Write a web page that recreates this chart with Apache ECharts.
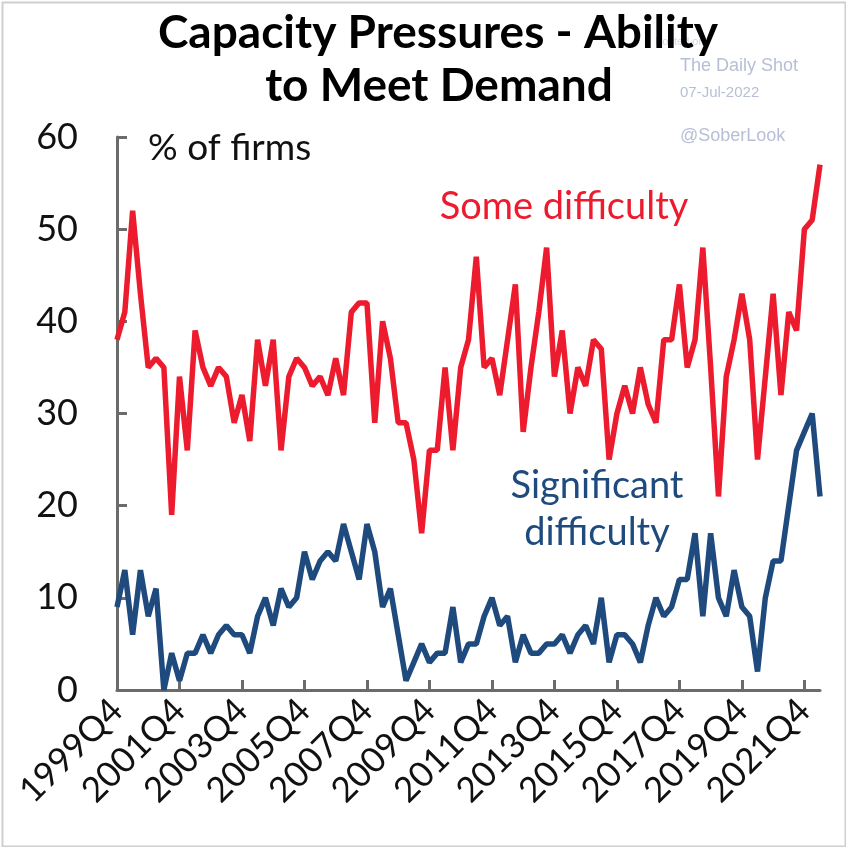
<!DOCTYPE html>
<html>
<head>
<meta charset="utf-8">
<script src="https://cdn.jsdelivr.net/npm/echarts@6/dist/echarts.min.js"></script>
<style>
html,body{margin:0;padding:0;background:#fff;}
#chart{width:846px;height:847px;}
</style>
</head>
<body>
<div id="chart"></div>
<script>
// Quarterly categories 1999Q4 .. 2022Q2
const startYear = 1999, startQ = 4, nQuarters = 91;
const categories = [];
for (let i = 0; i < nQuarters; i++) {
  const q = (startQ - 1 + i) % 4 + 1;
  const y = startYear + Math.floor((startQ - 1 + i) / 4);
  categories.push(y + 'Q' + q);
}

const someDifficulty = [
  38,41,52,43,35,36,35,19,34,26,39,35,33,35,34,29,32,27,38,33,
  38,26,34,36,35,33,34,32,36,32,41,42,42,29,40,36,29,29,25,17,
  26,26,35,26,35,38,47,35,36,32,38,44,28,35,41,48,34,39,30,35,
  33,38,37,25,30,33,30,35,31,29,38,38,44,35,38,48,35,21,34,38,
  43,38,25,34,43,32,41,39,50,51,57
];

const significantDifficulty = [
  9,13,6,13,8,11,0,4,1,4,4,6,4,6,7,6,6,4,8,10,
  7,11,9,10,15,12,14,15,14,18,15,12,18,15,9,11,6,1,3,5,
  3,4,4,9,3,5,5,8,10,7,8,3,6,4,4,5,5,6,4,6,
  7,5,10,3,6,6,5,3,7,10,8,9,12,12,17,8,17,10,8,13,
  9,8,2,10,14,14,20,26,28,30,21
];

const yTicks = { min: 0, max: 60, interval: 10 };

const FONT = 'Lato, "Open Sans", sans-serif';
const RED = '#EC1B2E';
const BLUE = '#1E4A7E';
const AXIS = '#6b6b6b';
const WM = '#b7bfd6';

const chart = echarts.init(document.getElementById('chart'));
chart.setOption({
  backgroundColor: '#ffffff',
  animation: false,
  grid: { left: 117, right: 26, top: 137, bottom: 157, containLabel: false },
  xAxis: {
    type: 'category',
    data: categories,
    boundaryGap: false,
    axisLine: { show: true, lineStyle: { color: AXIS, width: 3 } },
    axisTick: { show: true, inside: true, length: 10, interval: 7, lineStyle: { color: AXIS, width: 3 } },
    axisLabel: { interval: 7, rotate: 45, fontSize: 35, color: '#111', fontFamily: FONT, margin: 15 },
    splitLine: { show: false }
  },
  yAxis: {
    type: 'value',
    min: yTicks.min, max: yTicks.max, interval: yTicks.interval,
    axisLine: { show: true, lineStyle: { color: AXIS, width: 3 } },
    axisTick: { show: true, inside: true, length: 10, lineStyle: { color: AXIS, width: 3 } },
    axisLabel: { fontSize: 36, color: '#111', fontFamily: FONT, margin: 39 },
    splitLine: { show: false }
  },
  series: [
    {
      name: 'Some difficulty', type: 'line', data: someDifficulty,
      showSymbol: false, lineStyle: { color: RED, width: 5.5 }, z: 3
    },
    {
      name: 'Significant difficulty', type: 'line', data: significantDifficulty,
      showSymbol: false, lineStyle: { color: BLUE, width: 5.5 }, z: 4
    }
  ],
  graphic: [
    { type: 'rect', left: 0, top: 0, shape: { x: 1, y: 1, width: 843, height: 844 },
      style: { fill: 'none', stroke: '#cfcfcf', lineWidth: 2 }, silent: true },
    { type: 'text', x: 655, y: 42, z: 1, style: { text: 'Posted on', font: '11px "Liberation Sans", sans-serif', fill: '#d4d8e6', textAlign: 'left', textVerticalAlign: 'middle' } },
    { type: 'text', x: 438, y: 33, z: 5, style: { text: 'Capacity Pressures - Ability', font: 'bold 46px ' + FONT, fill: '#000', textAlign: 'center', textVerticalAlign: 'middle' } },
    { type: 'text', x: 439, y: 86, z: 5, style: { text: 'to Meet Demand', font: 'bold 46px ' + FONT, fill: '#000', textAlign: 'center', textVerticalAlign: 'middle' } },
    { type: 'text', x: 680, y: 66, style: { text: 'The Daily Shot', font: '18px "Liberation Sans", sans-serif', fill: WM, textAlign: 'left', textVerticalAlign: 'middle' } },
    { type: 'text', x: 680, y: 93, style: { text: '07-Jul-2022', font: '15px "Liberation Sans", sans-serif', fill: WM, textAlign: 'left', textVerticalAlign: 'middle' } },
    { type: 'text', x: 680, y: 136, style: { text: '@SoberLook', font: '18px "Liberation Sans", sans-serif', fill: WM, textAlign: 'left', textVerticalAlign: 'middle' } },
    { type: 'text', x: 148, y: 148, style: { text: '% of firms', font: '37px ' + FONT, fill: '#111', textAlign: 'left', textVerticalAlign: 'middle' } },
    { type: 'text', x: 564, y: 207, style: { text: 'Some difficulty', font: '38px ' + FONT, fill: RED, textAlign: 'center', textVerticalAlign: 'middle' } },
    { type: 'text', x: 597, y: 486, style: { text: 'Significant', font: '38px ' + FONT, fill: BLUE, textAlign: 'center', textVerticalAlign: 'middle' } },
    { type: 'text', x: 597, y: 533, style: { text: 'difficulty', font: '38px ' + FONT, fill: BLUE, textAlign: 'center', textVerticalAlign: 'middle' } }
  ]
});
</script>
</body>
</html>
